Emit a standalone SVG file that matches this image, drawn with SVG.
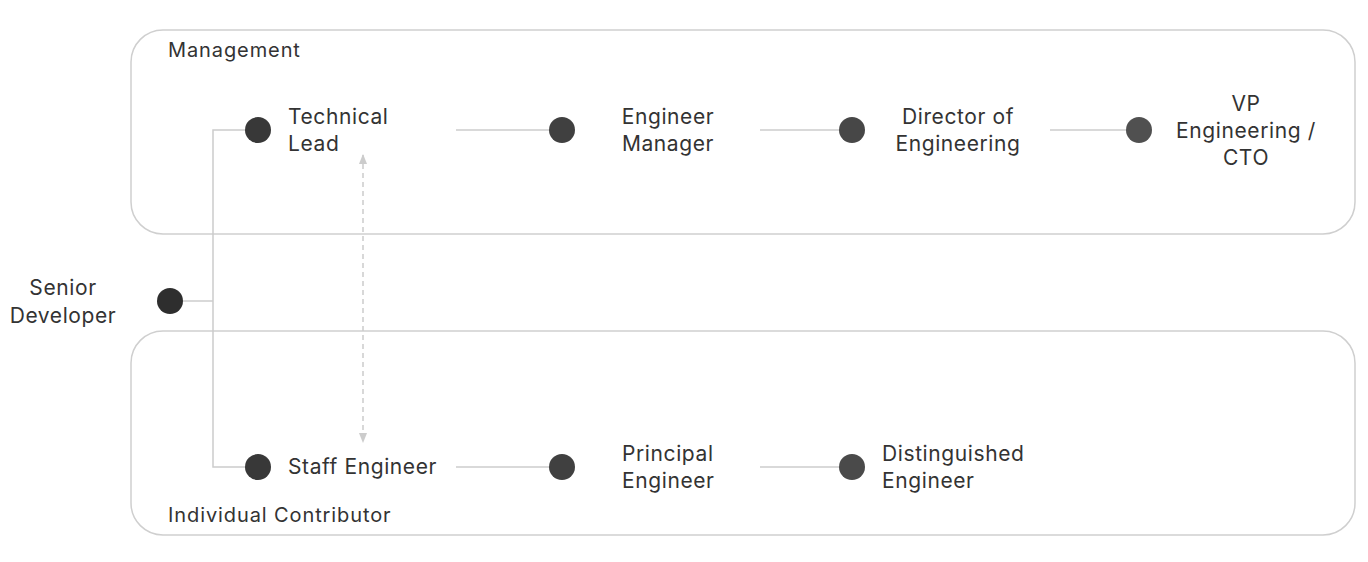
<svg xmlns="http://www.w3.org/2000/svg" width="1368" height="562" viewBox="0 0 1368 562">
<style>
.box{fill:none;stroke:#cfcfcf;stroke-width:1.5}
.ln{fill:none;stroke:#cccccc;stroke-width:1.5}
.dash{fill:none;stroke:#cccccc;stroke-width:1.5;stroke-dasharray:5 4}
text{font-family:Inter,"Noto Sans",sans-serif;font-size:21px;letter-spacing:0.6px;fill:#333333}
.grp{font-size:20px;letter-spacing:0.9px}
.c{text-anchor:middle}
</style>
<defs>
<marker id="ah" viewBox="0 0 10 10" refX="9" refY="5" markerWidth="7" markerHeight="7" orient="auto-start-reverse">
<path d="M0,1 L10,5 L0,9 z" fill="#cccccc"/>
</marker>
</defs>
<g id="management">
<rect class="box" x="131" y="30" width="1224" height="204" rx="32"/>
<text class="grp" x="168" y="57">Management</text>
</g>
<g id="ic">
<rect class="box" x="131" y="331" width="1224" height="204" rx="32"/>
<text class="grp" x="168" y="522">Individual Contributor</text>
</g>
<g id="connectors">
<polyline class="ln" points="183,301 213,301"/>
<polyline class="ln" points="245,130 213,130 213,467 245,467"/>
<line class="ln" x1="456" y1="130" x2="549" y2="130"/>
<line class="ln" x1="760" y1="130" x2="839" y2="130"/>
<line class="ln" x1="1050" y1="130" x2="1126" y2="130"/>
<line class="ln" x1="456" y1="467" x2="549" y2="467"/>
<line class="ln" x1="760" y1="467" x2="839" y2="467"/>
<line class="dash" x1="363" y1="155" x2="363" y2="442" marker-start="url(#ah)" marker-end="url(#ah)"/>
</g>
<g id="senior">
<circle cx="170" cy="301" r="13" fill="#2e2e2e"/>
<text class="c" x="63" y="295">Senior</text>
<text class="c" x="63" y="323">Developer</text>
</g>
<g id="techlead">
<circle cx="258" cy="130" r="13" fill="#383838"/>
<text x="288" y="124">Technical</text>
<text x="288" y="151">Lead</text>
</g>
<g id="em">
<circle cx="562" cy="130" r="13" fill="#404040"/>
<text class="c" x="668" y="124">Engineer</text>
<text class="c" x="668" y="151">Manager</text>
</g>
<g id="director">
<circle cx="852" cy="130" r="13" fill="#474747"/>
<text class="c" x="958" y="124">Director of</text>
<text class="c" x="958" y="151">Engineering</text>
</g>
<g id="vp">
<circle cx="1139" cy="130" r="13" fill="#505050"/>
<text class="c" x="1246" y="111">VP</text>
<text class="c" x="1246" y="138">Engineering /</text>
<text class="c" x="1246" y="165">CTO</text>
</g>
<g id="staff">
<circle cx="258" cy="467" r="13" fill="#383838"/>
<text x="288" y="474">Staff Engineer</text>
</g>
<g id="principal">
<circle cx="562" cy="467" r="13" fill="#404040"/>
<text x="622" y="461">Principal</text>
<text x="622" y="488">Engineer</text>
</g>
<g id="distinguished">
<circle cx="852" cy="467" r="13" fill="#4a4a4a"/>
<text x="882" y="461">Distinguished</text>
<text x="882" y="488">Engineer</text>
</g>
</svg>
